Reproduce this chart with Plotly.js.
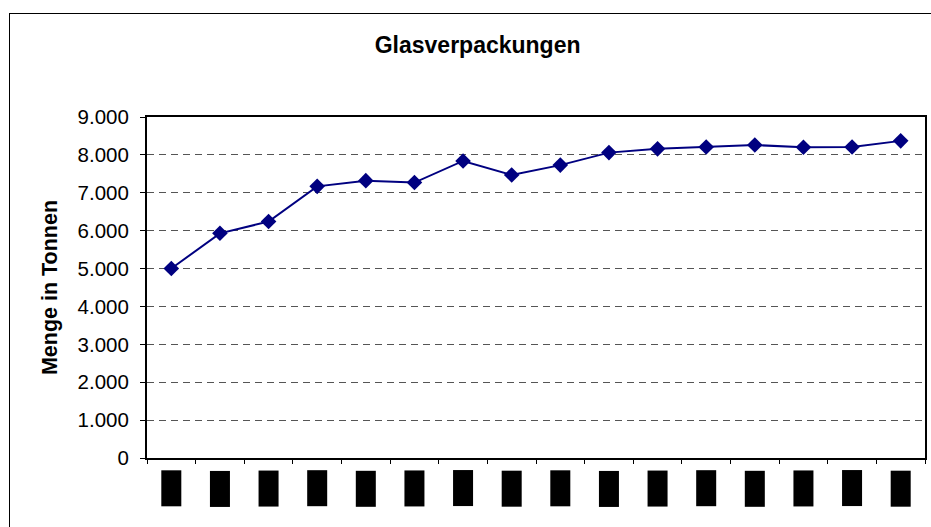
<!DOCTYPE html>
<html>
<head>
<meta charset="utf-8">
<script src="https://cdn.plot.ly/plotly-3.0.1.min.js"></script>
<style>
  body { margin: 0; background: #fff; }
  #wrap { position: relative; width: 931px; height: 527px; }
  #chart { width: 931px; height: 527px; }
  #frame { position: absolute; left: 9px; top: 13px; width: 940px; height: 540px;
           border-left: 1.5px solid #000; border-top: 1.5px solid #000; pointer-events: none; }
</style>
</head>
<body>
<div id="wrap">
  <div id="chart"></div>
  <div id="frame"></div>
</div>
<script>
// years (labels are blacked out in the source picture)
const years = ['1991','1992','1993','1994','1995','1996','1997','1998',
               '1999','2000','2001','2002','2003','2004','2005','2006'];
// Menge in Tonnen
const tonnen = [5000, 5930, 6240, 7170, 7320, 7270, 7840, 7470,
                7730, 8060, 8160, 8210, 8260, 8200, 8210, 8370];
const yTicks = [0, 1000, 2000, 3000, 4000, 5000, 6000, 7000, 8000, 9000];

const navy = '#000080';

const trace = {
  x: years,
  y: tonnen,
  type: 'scatter',
  mode: 'lines+markers',
  line: { color: navy, width: 2 },
  marker: { symbol: 'diamond', size: 12, color: navy },
  hoverinfo: 'x+y'
};

// redacted x labels: black boxes behind the year text (x = category index)
const boxes = years.map((y, i) => ({
  x: i, xref: 'x',
  y: 0, yref: 'paper', yanchor: 'top', yshift: -12,
  text: y, textangle: -90, showarrow: false,
  font: { family: 'Liberation Sans, Arial, sans-serif', size: 15, color: '#000' },
  bgcolor: '#000', borderpad: 1
}));

const layout = {
  width: 931, height: 527,
  margin: { l: 147, r: 6, t: 117, b: 69 },
  paper_bgcolor: '#fff', plot_bgcolor: '#fff',
  separators: ',.',
  showlegend: false,
  font: { family: 'Liberation Sans, Arial, sans-serif', color: '#000', size: 20 },
  title: {
    text: '<b>Glasverpackungen</b>',
    font: { size: 23, color: '#000' },
    xref: 'container', x: 0.513, xanchor: 'center',
    yref: 'container', y: 0.915, yanchor: 'middle'
  },
  xaxis: {
    type: 'category',
    range: [-0.5, years.length - 0.5],
    showticklabels: false,
    ticks: 'outside', ticklen: 4, tickcolor: '#000', tickwidth: 1,
    tickson: 'boundaries',
    showgrid: false,
    showline: true, linecolor: '#000', linewidth: 2, mirror: true,
    zeroline: false
  },
  yaxis: {
    range: [0, 9000],
    tickvals: yTicks,
    tickformat: ',d',
    ticks: 'outside', ticklen: 5, tickcolor: '#000', tickwidth: 1,
    ticklabelstandoff: 7,
    tickfont: { size: 20.5, color: '#000' },
    showgrid: true, gridcolor: '#555', griddash: '7px,5px', gridwidth: 1,
    showline: true, linecolor: '#000', linewidth: 2, mirror: true,
    zeroline: false,
    title: { text: '<b>Menge in Tonnen</b>', font: { size: 21.5, color: '#000' }, standoff: 14 }
  },
  annotations: boxes
};

Plotly.newPlot('chart', [trace], layout, { displayModeBar: false, staticPlot: true });
</script>
</body>
</html>
